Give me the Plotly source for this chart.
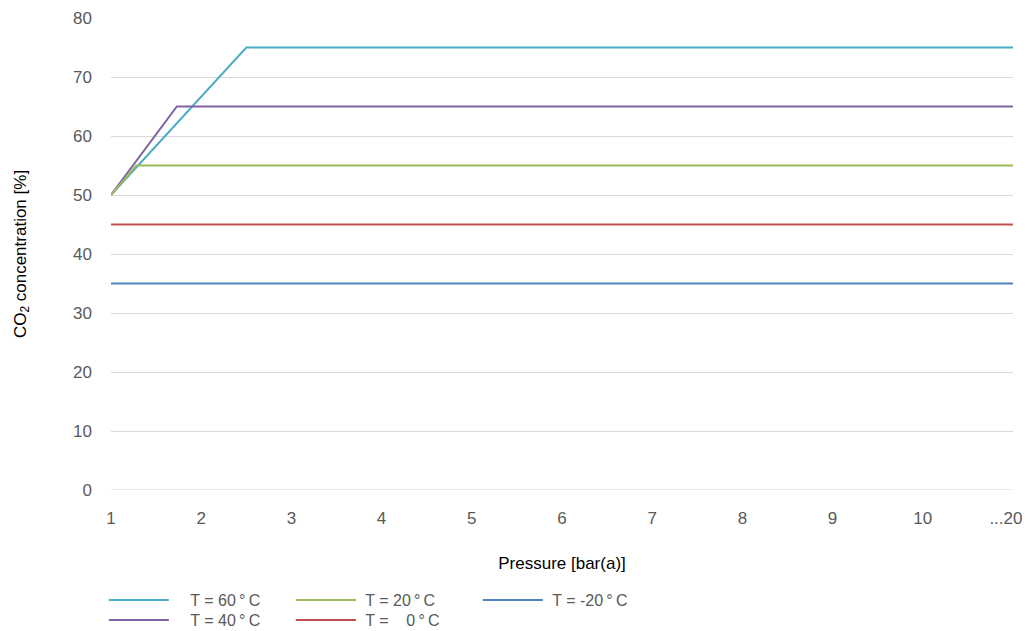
import plotly.graph_objects as go

# Axis categories / tick labels
tick_positions = [1, 2, 3, 4, 5, 6, 7, 8, 9, 10, 11]
tick_labels = ["1", "2", "3", "4", "5", "6", "7", "8", "9", "10", "...20\u00a0\u00a0\u00a0"]

# Series (pressure positions on axis, CO2 concentration %)
t60_x = [1, 2.5, 11]
t60_y = [50, 75, 75]
t40_x = [1, 1.73, 11]
t40_y = [50, 65, 65]
t20_x = [1, 1.28, 11]
t20_y = [50, 55, 55]
t0_x = [1, 11]
t0_y = [45, 45]
tm20_x = [1, 11]
tm20_y = [35, 35]

pad1 = "\u00a0\u00a0\u00a0\u2009"
pad2 = "\u00a0"
deg = "\u2009°\u2009C"
series = [
    (pad1 + "T = 60" + deg, t60_x, t60_y, "#4BACC6", "legend"),
    (pad1 + "T = 40" + deg, t40_x, t40_y, "#8064A2", "legend2"),
    (pad2 + "T = 20" + deg, t20_x, t20_y, "#9BBB59", "legend"),
    (pad2 + "T =\u00a0\u00a0\u00a0\u00a00" + deg, t0_x, t0_y, "#C0504D", "legend2"),
    (pad2 + "T = -20" + deg, tm20_x, tm20_y, "#4F81BD", "legend"),
]

font_family = "Liberation Sans, Arial, sans-serif"
grey = "#595959"

fig = go.Figure()
for name, xs, ys, col, leg in series:
    fig.add_trace(go.Scatter(
        x=xs, y=ys, mode="lines", name=name,
        line=dict(color=col, width=2),
        legend=leg,
    ))

legend_common = dict(
    orientation="h", xref="container", xanchor="left",
    yref="container", yanchor="top",
    entrywidth=112, entrywidthmode="pixels",
    font=dict(size=16, color=grey), tracegroupgap=0,
    itemwidth=60, bgcolor="rgba(0,0,0,0)",
)

fig.update_layout(
    width=1028, height=631,
    margin=dict(l=111, r=15, t=18, b=141, autoexpand=False),
    paper_bgcolor="white", plot_bgcolor="white",
    font=dict(family=font_family, size=17, color=grey),
    showlegend=True,
    legend=dict(legend_common, x=0.101, y=1 - 583 / 631),
    legend2=dict(legend_common, x=0.101, y=1 - 603 / 631),
    xaxis=dict(
        range=[1, 11], tickvals=tick_positions, ticktext=tick_labels,
        showgrid=False, zeroline=False, showline=False, ticks="",
        ticklabelstandoff=16, ticklabeloverflow="allow", automargin=False,
        tickfont=dict(size=17, color=grey),
        title=dict(text="Pressure [bar(a)]", font=dict(size=17, color="#000000"), standoff=30),
    ),
    yaxis=dict(
        range=[0, 80], dtick=10, showgrid=True, gridcolor="#D9D9D9", gridwidth=1,
        zeroline=False, showline=False, ticks="", ticklabelstandoff=18,
        automargin=False,
        tickfont=dict(size=17, color=grey),
        title=dict(text="CO<sub>2</sub> concentration [%]", font=dict(size=17, color="#000000"), standoff=42),
    ),
)
fig.add_hline(y=0, line=dict(color="#D9D9D9", width=1), layer="below")

fig.write_html(
    "out.html",
    config={"displayModeBar": False},
    post_script="document.body.style.margin='0';document.body.style.overflow='hidden';",
)
